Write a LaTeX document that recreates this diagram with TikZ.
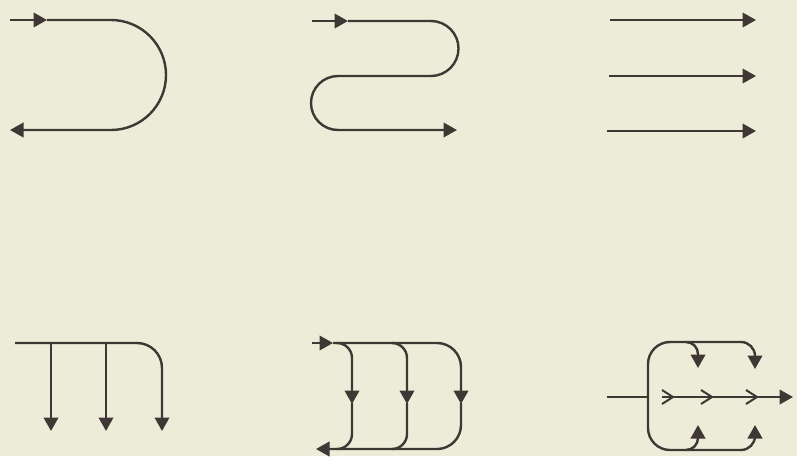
\documentclass[tikz,border=0pt]{standalone}
\usetikzlibrary{arrows.meta}
\definecolor{bg}{RGB}{237,236,216}
\definecolor{ink}{RGB}{62,56,52}
\begin{document}
\begin{tikzpicture}[x=1pt,y=1pt,yscale=-1,
  ln/.style={draw=ink,line width=2.4pt},
  tri/.style={ln,-{Triangle[length=13.5pt,width=14.5pt]}},
  barb/.style={ln,line width=2pt,line join=miter}]
\fill[bg] (0,0) rectangle (797,456);
\useasboundingbox (0,0) rectangle (797,456);
% panel 1
\draw[tri] (10,20) -- (47,20);
\draw[tri] (47,20) -- (111,20) arc[start angle=-90,end angle=90,radius=55] -- (10,130);
% panel 2
\draw[tri] (312,21) -- (348,21);
\draw[tri] (348,21) -- (431,21) arc[start angle=-90,end angle=90,radius=27.5] -- (338,76)
  arc[start angle=-90,end angle=-270,radius=27] -- (457,130);
% panel 3
\draw[tri] (610,20) -- (756,20);
\draw[tri] (609,76) -- (756,76);
\draw[tri] (607,131) -- (756,131);
% panel 4
\draw[tri] (15,343) -- (137,343) arc[start angle=-90,end angle=0,radius=25] -- (162,431);
\draw[tri] (51,343) -- (51,431);
\draw[tri] (106,343) -- (106,431);
% panel 5
\draw[tri] (312,343) -- (333,343);
\draw[tri] (333,343) -- (437,343) arc[start angle=-90,end angle=0,radius=24] -- (461,404);
\draw[tri] (461,403) -- (461,425) arc[start angle=0,end angle=90,radius=24] -- (316,449);
\draw[tri] (337,343) arc[start angle=-90,end angle=0,radius=15] -- (352,404);
\draw[ln] (352,403) -- (352,434) arc[start angle=0,end angle=90,radius=15];
\draw[tri] (392,343) arc[start angle=-90,end angle=0,radius=15] -- (407,404);
\draw[ln] (407,403) -- (407,434) arc[start angle=0,end angle=90,radius=15];
% panel 6
\draw[ln] (607,397) -- (648,397);
\draw[ln] (670,342) arc[start angle=270,end angle=180,radius=22] -- (648,428)
  arc[start angle=180,end angle=90,radius=22];
\draw[tri] (670,342) -- (741,342) arc[start angle=-90,end angle=0,radius=14] -- (755,369);
\draw[tri] (686,342) arc[start angle=-90,end angle=0,radius=12] -- (698,368);
\draw[tri] (670,450) -- (741,450) arc[start angle=90,end angle=0,radius=14] -- (755,425);
\draw[tri] (686,450) arc[start angle=90,end angle=0,radius=12] -- (698,425);
\draw[tri] (662,397) -- (793,397);
\draw[barb] (662,390) -- (673,397) -- (662,404);
\draw[barb] (701,390) -- (712,397) -- (701,404);
\draw[barb] (746,390) -- (757,397) -- (746,404);
\end{tikzpicture}
\end{document}
